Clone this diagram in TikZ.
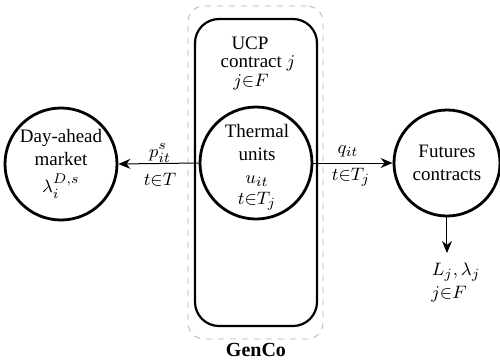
\documentclass[tikz,border=0pt]{standalone}
\usepackage{fontspec}
\setmainfont{Liberation Serif}
\usetikzlibrary{arrows.meta}
\begin{document}
\begin{tikzpicture}[x=0.5pt,y=-0.5pt,
  bigc/.style={circle,draw,line width=1.4pt,inner sep=0pt},
  txt/.style={font=\fontsize{9.5}{11.5}\selectfont,align=center,inner sep=0pt},
  conn/.style={line width=0.5pt,-{Stealth[length=6pt,width=5pt]}}]
\useasboundingbox (0,0) rectangle (500,360);
% GenCo dashed boundary
\node[draw=gray!60,dashed,line width=0.4pt,rounded corners=8pt,inner sep=0pt,
      minimum width=67.5pt,minimum height=166.5pt] (genco) at (255.5,172.5) {};
\node[font=\fontsize{10}{12}\selectfont\bfseries,inner sep=0pt] (gencolab) at (256,350) {GenCo};
% UCP rounded rectangle
\node[draw,line width=1.1pt,rounded corners=12pt,inner sep=0pt,
      minimum width=61pt,minimum height=153.5pt] (ucp) at (256,172.5) {};
\node[txt] (ucp1) at (250,43) {UCP};
\node[txt] (ucp2) at (258,63) {contract $j$};
\node[txt] (ucp3) at (251,82) {$j{\in}F$};
% circles
\node[bigc,minimum size=56pt] (th) at (256,163) {};
\node[txt] (thtxt) at (257,167) {Thermal\\units\\$u_{it}$\\[-1pt]$t{\in}T_j$};
\node[bigc,minimum size=56pt,txt,line width=1.4pt,draw] (da) at (61,164) {Day-ahead\\market\\[2pt]$\lambda_i^{D,s}$};
\node[bigc,minimum size=53pt,txt,line width=1.4pt,draw] (fu) at (447,163) {Futures\\contracts};
% connectors
\draw[conn] (th.west) -- (da.east);
\draw[conn] (th.east) -- (fu.west);
\coordinate (dn) at (447,253);
\draw[conn] (fu.south) -- (dn);
% connector labels
\node[txt] (pl) at (160,153) {$p^{s}_{it}$};
\node[txt] (pl2) at (160,180) {$t{\in}T$};
\node[txt] (ql) at (348,151) {$q_{it}$};
\node[txt] (ql2) at (351,177) {$t{\in}T_j$};
\node[txt] (ll) at (456,272) {$L_j,\lambda_j$};
\node[txt] (ll2) at (449,294) {$j{\in}F$};
\end{tikzpicture}
\end{document}
